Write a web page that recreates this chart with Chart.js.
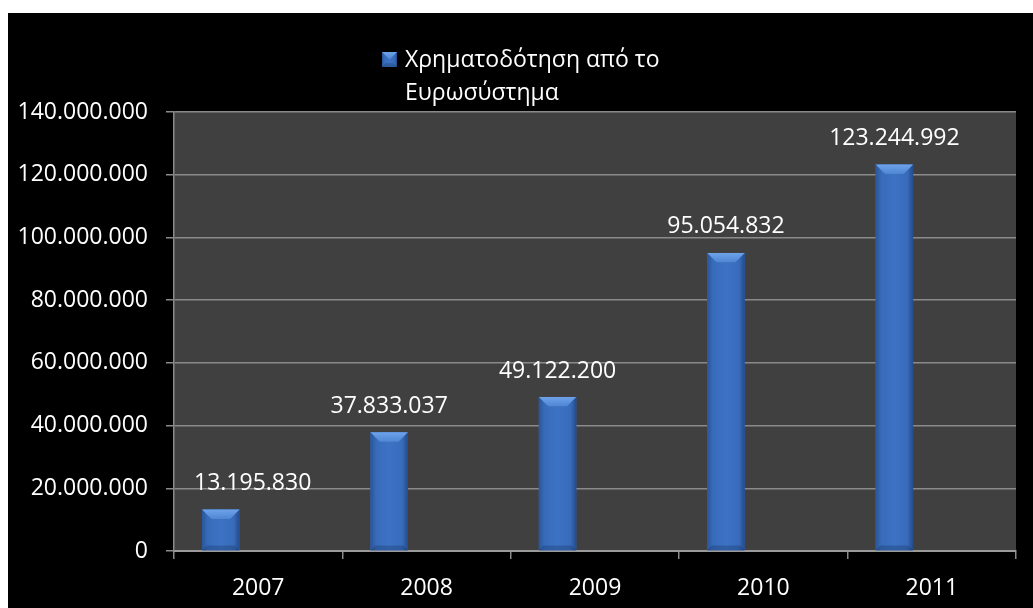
<!DOCTYPE html>
<html>
<head>
<meta charset="utf-8">
<script src="https://cdn.jsdelivr.net/npm/chart.js@4"></script>
<style>
  html, body { margin: 0; padding: 0; background: #fff; }
  #wrap { position: absolute; left: 8px; top: 13px; width: 1025px; height: 595px; background: #000; }
</style>
</head>
<body>
<div id="wrap"><canvas id="fundingChart" width="1025" height="595"></canvas></div>
<script>
const categories = ["2007", "2008", "2009", "2010", "2011"];
const fundingValues = [13195830, 37833037, 49122200, 95054832, 123244992];
// the two unused series slots keep the bar on the left of each group
const emptySeriesA = [null, null, null, null, null];
const emptySeriesB = [null, null, null, null, null];
const seriesLabel = ["Χρηματοδότηση από το", "Ευρωσύστημα"];
const yMin = 0;
const yMax = 140000000;
const yStep = 20000000;

const FONT = "'Open Sans', 'Noto Sans', sans-serif";
const BAR_BLUE = "#3a6ec0";

function formatNumber(v) {
    return String(v).replace(/\B(?=(\d{3})+(?!\d))/g, ".");
}

const plotBackground = {
    id: "plotBackground",
    beforeDraw(chart) {
        const { ctx, chartArea } = chart;
        ctx.save();
        ctx.fillStyle = "#404040";
        ctx.fillRect(chartArea.left, chartArea.top, chartArea.right - chartArea.left, chartArea.bottom - chartArea.top);
        ctx.restore();
    }
};

// shaded sides and a lighter top facet on a bar-shaped box
function drawBevelBox(ctx, left, top, right, bottom, b) {
    const width = right - left;
    const side = ctx.createLinearGradient(left, 0, right, 0);
    side.addColorStop(0, "#2a5598");
    side.addColorStop(0.15, "#386bba");
    side.addColorStop(0.5, "#3d72c4");
    side.addColorStop(0.85, "#386bba");
    side.addColorStop(1, "#234b8a");
    ctx.fillStyle = side;
    ctx.fillRect(left, top, width, bottom - top);

    const topFacet = ctx.createLinearGradient(0, top, 0, top + b);
    topFacet.addColorStop(0, "#6ea3ea");
    topFacet.addColorStop(1, "#4f86d2");
    ctx.fillStyle = topFacet;
    ctx.beginPath();
    ctx.moveTo(left, top);
    ctx.lineTo(right, top);
    ctx.lineTo(right - b, top + b);
    ctx.lineTo(left + b, top + b);
    ctx.closePath();
    ctx.fill();

    ctx.fillStyle = "rgba(20, 45, 90, 0.3)";
    ctx.beginPath();
    ctx.moveTo(left, bottom);
    ctx.lineTo(right, bottom);
    ctx.lineTo(right - b / 2, bottom - b / 2);
    ctx.lineTo(left + b / 2, bottom - b / 2);
    ctx.closePath();
    ctx.fill();
}

const barBevel = {
    id: "barBevel",
    afterDatasetsDraw(chart) {
        const ctx = chart.ctx;
        const meta = chart.getDatasetMeta(0);
        meta.data.forEach((bar, i) => {
            if (fundingValues[i] == null) return;
            const { x, y, base, width } = bar.getProps(["x", "y", "base", "width"], true);
            const top = Math.min(y, base), bottom = Math.max(y, base);
            const b = Math.min(10, width / 4, (bottom - top) / 2);
            ctx.save();
            drawBevelBox(ctx, x - width / 2, top, x + width / 2, bottom, b);
            ctx.restore();
        });
    }
};

const valueLabels = {
    id: "valueLabels",
    afterDatasetsDraw(chart) {
        const { ctx, chartArea } = chart;
        const meta = chart.getDatasetMeta(0);
        ctx.save();
        ctx.font = "23px " + FONT;
        ctx.fillStyle = "#ffffff";
        ctx.textAlign = "center";
        ctx.textBaseline = "middle";
        meta.data.forEach((bar, i) => {
            const v = fundingValues[i];
            if (v == null) return;
            const text = formatNumber(v);
            const w = ctx.measureText(text).width;
            // keep the label clear of the left edge of the plot
            const x = Math.max(bar.x, chartArea.left + 20 + w / 2);
            ctx.fillText(text, x, bar.y - 26);
        });
        ctx.restore();
    }
};

// two-line legend entry centred over the canvas
const wrappedLegend = {
    id: "wrappedLegend",
    afterDraw(chart) {
        const ctx = chart.ctx;
        ctx.save();
        ctx.font = "23px " + FONT;
        const textW = Math.max(...seriesLabel.map(t => ctx.measureText(t).width));
        const box = 15, gap = 8;
        const itemW = box + gap + textW;
        const left = Math.round((chart.width - itemW) / 2);
        drawBevelBox(ctx, left, 39, left + box, 39 + box, 7.5);
        ctx.fillStyle = "#ffffff";
        ctx.textAlign = "left";
        ctx.textBaseline = "middle";
        seriesLabel.forEach((line, k) => {
            ctx.fillText(line, left + box + gap, 47 + k * 33);
        });
        ctx.restore();
    }
};

new Chart(document.getElementById("fundingChart"), {
    type: "bar",
    data: {
        labels: categories,
        datasets: [
            { label: seriesLabel.join(" "), data: fundingValues, backgroundColor: BAR_BLUE },
            { label: "", data: emptySeriesA, backgroundColor: BAR_BLUE },
            { label: "", data: emptySeriesB, backgroundColor: BAR_BLUE }
        ]
    },
    options: {
        responsive: false,
        animation: false,
        events: [],
        categoryPercentage: 0.667,
        barPercentage: 1,
        layout: { padding: { top: 99, right: 17, bottom: 0, left: 0 } },
        plugins: {
            tooltip: { enabled: false },
            legend: { display: false }
        },
        scales: {
            x: {
                grid: {
                    offset: true,
                    drawOnChartArea: false,
                    drawTicks: true,
                    tickLength: 8,
                    color: "#8a8a8a",
                    lineWidth: 1.5
                },
                border: { color: "#9a9a9a", width: 2 },
                ticks: {
                    color: "#ffffff",
                    font: { family: FONT, size: 23 },
                    padding: 16,
                    maxRotation: 0
                },
                afterFit(scale) { scale.height = 57; }
            },
            y: {
                min: yMin,
                max: yMax,
                grid: {
                    color: "#8a8a8a",
                    lineWidth: 1.5,
                    tickLength: 8
                },
                border: { color: "#8a8a8a", width: 1.5 },
                ticks: {
                    stepSize: yStep,
                    color: "#ffffff",
                    font: { family: FONT, size: 23 },
                    padding: 18,
                    callback: v => formatNumber(v)
                },
                afterFit(scale) { scale.width = 166; }
            }
        }
    },
    plugins: [plotBackground, barBevel, valueLabels, wrappedLegend]
});
</script>
</body>
</html>
